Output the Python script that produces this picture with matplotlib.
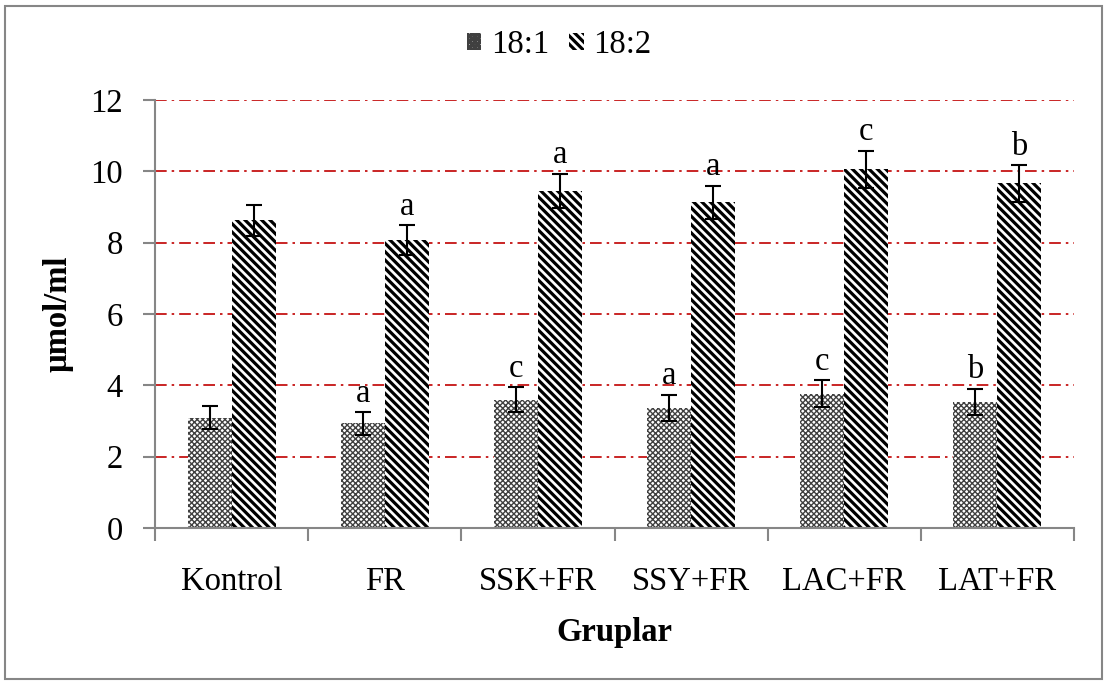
import numpy as np
import matplotlib
matplotlib.use("Agg")
import matplotlib.pyplot as plt
from matplotlib.patches import Patch, Rectangle

plt.rcParams['font.family'] = ['Liberation Serif', 'DejaVu Serif']

# Veri
gruplar = ["Kontrol", "FR", "SSK+FR", "SSY+FR", "LAC+FR", "LAT+FR"]
ort_181 = [3.09, 2.93, 3.59, 3.37, 3.76, 3.54]
hata_181 = [0.32, 0.32, 0.35, 0.36, 0.38, 0.36]
ort_182 = [8.63, 8.07, 9.45, 9.13, 10.06, 9.66]
hata_182 = [0.43, 0.42, 0.48, 0.47, 0.52, 0.51]
harf_181 = ["", "a", "c", "a", "c", "b"]
harf_182 = ["", "a", "a", "a", "c", "b"]

x = np.arange(len(gruplar))
w = 0.287
gri = "#868686"
fs = 23.5
desen1, renk1, kal1 = "xxxxxx", "#404040", 1.0
desen2, renk2, kal2 = "\\\\\\\\", "black", 2.3

fig = plt.figure(figsize=(11.07, 6.84), dpi=100)
ax = fig.add_axes([155 / 1107, 1 - 528 / 684, (1074 - 155) / 1107, 428 / 684])

# cerceve
fig.patches.append(Rectangle((5 / 1107, 5 / 684), 1097 / 1107, 673 / 684,
                             transform=fig.transFigure, fill=False,
                             edgecolor=gri, linewidth=1.5))

# kirmizi grid
for yv in range(2, 13, 2):
    ax.axhline(yv, color="#C00000", linewidth=1.2, dashes=(7, 3, 1.5, 3), zorder=1)


def cubuk(xs, ys, hatch, renk, hlw):
    plt.rcParams['hatch.linewidth'] = hlw
    bars = ax.bar(xs, ys, w, facecolor="white", edgecolor=renk, hatch=hatch,
                  linewidth=0, zorder=2)
    for b in bars:
        if hasattr(b, "set_hatch_linewidth"):
            b.set_hatch_linewidth(hlw)
    return bars


cubuk(x - w / 2, ort_181, desen1, renk1, kal1)
cubuk(x + w / 2, ort_182, desen2, renk2, kal2)

ax.errorbar(x - w / 2, ort_181, yerr=hata_181, fmt="none", ecolor="black",
            elinewidth=1.5, capsize=5.5, capthick=1.5, zorder=3)
ax.errorbar(x + w / 2, ort_182, yerr=hata_182, fmt="none", ecolor="black",
            elinewidth=1.5, capsize=5.5, capthick=1.5, zorder=3)

for i in range(len(gruplar)):
    ax.text(x[i] - w / 2, ort_181[i] + hata_181[i] + 0.1, harf_181[i],
            ha="center", va="bottom", fontsize=fs)
    ax.text(x[i] + w / 2, ort_182[i] + hata_182[i] + 0.1, harf_182[i],
            ha="center", va="bottom", fontsize=fs)

ax.set_xlim(-0.5, len(gruplar) - 0.5)
ax.set_ylim(0, 12)
ax.set_yticks(range(0, 13, 2))

ax.set_xticks(np.arange(len(gruplar) + 1) - 0.5)
ax.set_xticklabels([])
ax.set_xticks(x, minor=True)
ax.set_xticklabels(gruplar, minor=True, fontsize=fs)
ax.tick_params(axis="x", which="major", length=9, color=gri, width=1.5, direction="out")
ax.tick_params(axis="x", which="minor", length=0, pad=28)
ax.tick_params(axis="y", length=9, color=gri, width=1.5, labelsize=fs, pad=14)

for s in ["top", "right"]:
    ax.spines[s].set_visible(False)
for s in ["left", "bottom"]:
    ax.spines[s].set_color(gri)
    ax.spines[s].set_linewidth(1.5)

ax.set_xlabel("Gruplar", fontsize=fs, fontweight="bold", labelpad=14)
ax.set_ylabel("µmol/ml", fontsize=fs, fontweight="bold", labelpad=12)

plt.rcParams['hatch.linewidth'] = kal1
h1 = Patch(facecolor="white", edgecolor=renk1, hatch=desen1, linewidth=0)
plt.rcParams['hatch.linewidth'] = kal2
h2 = Patch(facecolor="white", edgecolor=renk2, hatch=desen2, linewidth=0)
fig.legend([h1, h2], ["18:1", "18:2"], loc="center", bbox_to_anchor=(0.505, 1 - 45 / 684),
           ncol=2, frameon=False, fontsize=fs, handlelength=0.45, handleheight=0.45,
           handletextpad=0.3, columnspacing=0.6)

fig.savefig("out.png", dpi=100)
